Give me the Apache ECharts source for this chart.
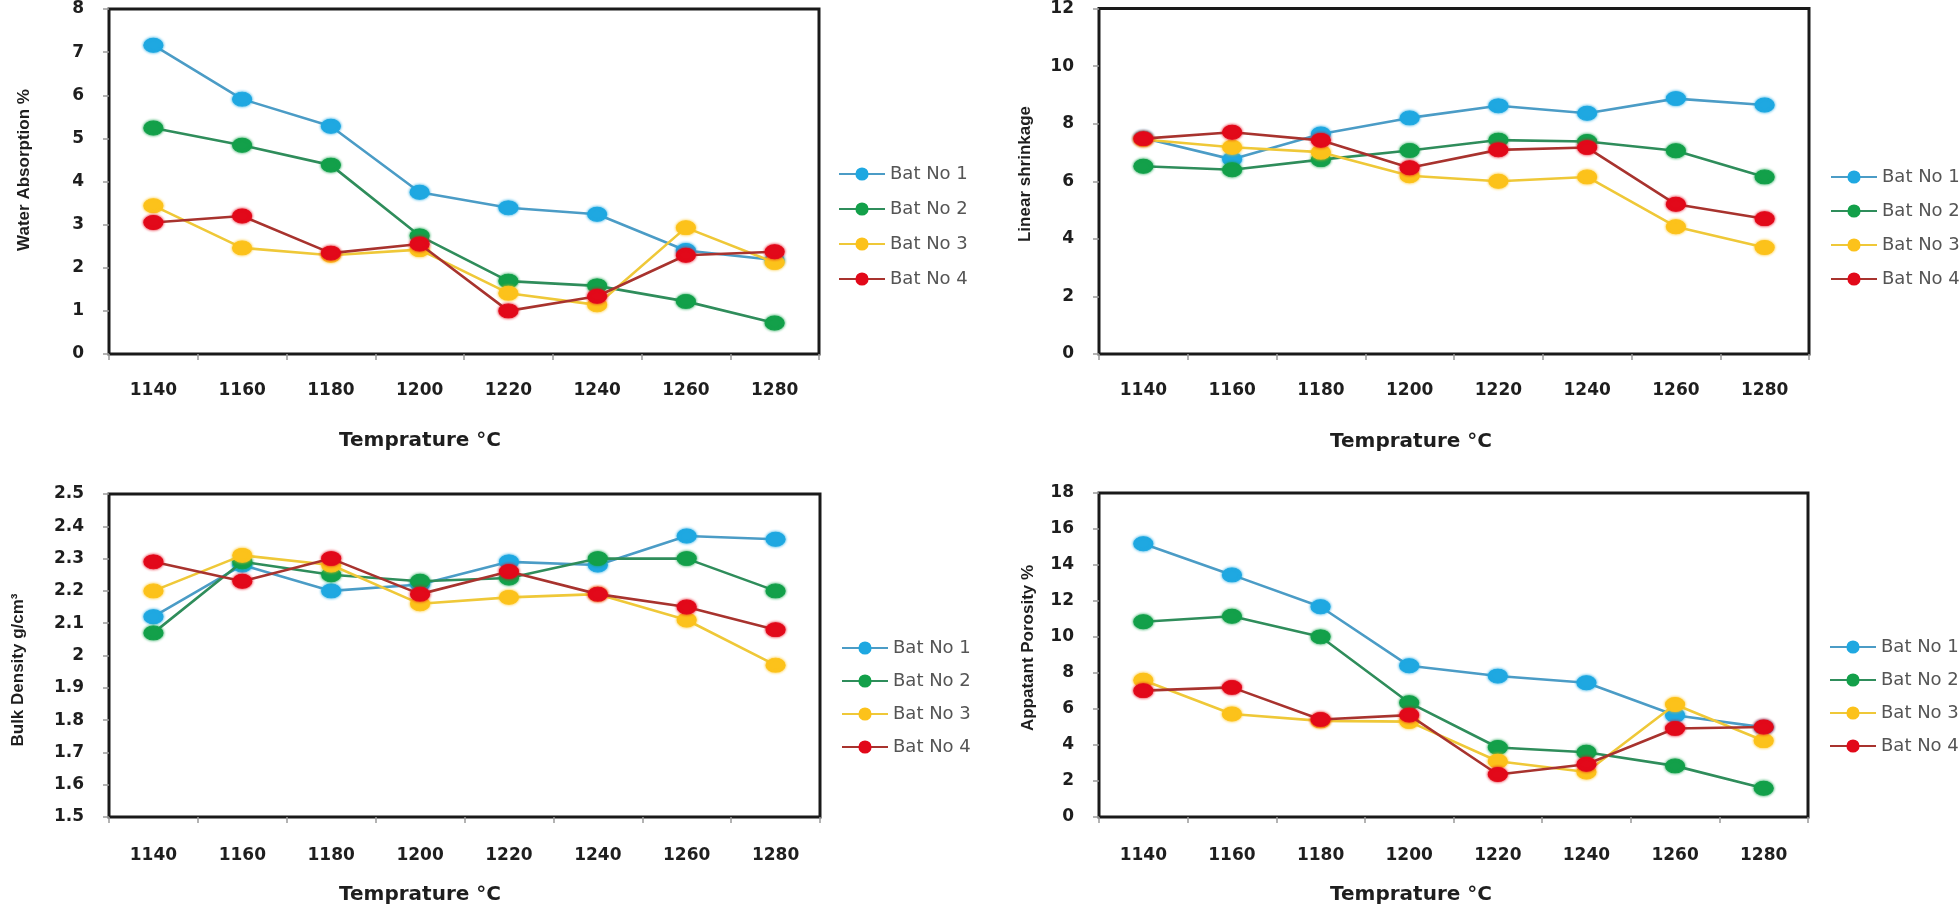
<!DOCTYPE html>
<html>
<head>
<meta charset="utf-8">
<script src="https://cdn.jsdelivr.net/npm/echarts@6/dist/echarts.min.js"></script>
<style>html,body{margin:0;padding:0;background:#fff}#c{width:1960px;height:907px}</style>
</head>
<body>
<div id="c"></div>
<script>
// ---------- data ----------
const categories = ['1140', '1160', '1180', '1200', '1220', '1240', '1260', '1280'];
const seriesNames = ['Bat No 1', 'Bat No 2', 'Bat No 3', 'Bat No 4'];

// Water Absorption %
const waterBat1 = [7.16, 5.91, 5.28, 3.75, 3.39, 3.24, 2.40, 2.18];
const waterBat2 = [5.24, 4.84, 4.38, 2.74, 1.69, 1.58, 1.22, 0.72];
const waterBat3 = [3.44, 2.46, 2.29, 2.42, 1.41, 1.14, 2.93, 2.12];
const waterBat4 = [3.05, 3.20, 2.34, 2.55, 1.00, 1.34, 2.29, 2.37];

// Linear shrinkage
const shrinkBat1 = [7.50, 6.76, 7.64, 8.20, 8.62, 8.36, 8.87, 8.65];
const shrinkBat2 = [6.52, 6.40, 6.75, 7.07, 7.43, 7.38, 7.06, 6.15];
const shrinkBat3 = [7.45, 7.18, 7.01, 6.19, 6.00, 6.15, 4.42, 3.70];
const shrinkBat4 = [7.48, 7.70, 7.42, 6.47, 7.09, 7.17, 5.20, 4.70];

// Bulk Density g/cm3
const densityBat1 = [2.12, 2.28, 2.20, 2.22, 2.29, 2.28, 2.37, 2.36];
const densityBat2 = [2.07, 2.29, 2.25, 2.23, 2.24, 2.30, 2.30, 2.20];
const densityBat3 = [2.20, 2.31, 2.28, 2.16, 2.18, 2.19, 2.11, 1.97];
const densityBat4 = [2.29, 2.23, 2.30, 2.19, 2.26, 2.19, 2.15, 2.08];

// Apparent Porosity %
const porosityBat1 = [15.18, 13.45, 11.68, 8.40, 7.83, 7.46, 5.65, 4.98];
const porosityBat2 = [10.85, 11.15, 10.01, 6.35, 3.86, 3.60, 2.84, 1.60];
const porosityBat3 = [7.60, 5.72, 5.34, 5.30, 3.10, 2.50, 6.25, 4.24];
const porosityBat4 = [7.02, 7.20, 5.42, 5.66, 2.36, 2.93, 4.92, 5.00];

// axis ranges
const waterAxis = {min: 0, max: 8, interval: 1};
const shrinkAxis = {min: 0, max: 12, interval: 2};
const densityAxis = {min: 1.5, max: 2.5, interval: 0.1};
const porosityAxis = {min: 0, max: 18, interval: 2};

const yTitles = ['Water Absorption %', 'Linear shrinkage', 'Bulk Density g/cm\u00B3', 'Appatant Porosity %'];
const xTitle = 'Temprature \u00B0C';

// ---------- styling ----------
const markerColors = ['#1fa8e1', '#13a04a', '#fcc21b', '#e2091a'];
const lineColors = ['#4b9cc6', '#2f8d5b', '#efc838', '#a8332e'];

const panels = [
  {data: [waterBat1, waterBat2, waterBat3, waterBat4], axis: waterAxis,
   grid: {left: 109, top: 9, width: 710, height: 345},
   legend: {left: 838, top: 164, gap: 15}, labelMargin: 28,
   yTitle: [24, 170], xTitle: [420, 441]},
  {data: [shrinkBat1, shrinkBat2, shrinkBat3, shrinkBat4], axis: shrinkAxis,
   grid: {left: 1099, top: 8, width: 710, height: 346},
   legend: {left: 1830, top: 167, gap: 14}, labelMargin: 28,
   yTitle: [1025, 174], xTitle: [1411, 442]},
  {data: [densityBat1, densityBat2, densityBat3, densityBat4], axis: densityAxis,
   grid: {left: 109, top: 494, width: 711, height: 323},
   legend: {left: 841, top: 638, gap: 13}, labelMargin: 30,
   yTitle: [18, 670], xTitle: [420, 895]},
  {data: [porosityBat1, porosityBat2, porosityBat3, porosityBat4], axis: porosityAxis,
   grid: {left: 1099, top: 493, width: 709, height: 324},
   legend: {left: 1829, top: 637, gap: 13}, labelMargin: 30,
   yTitle: [1028, 648], xTitle: [1411, 895]}
];

const labelFont = {fontFamily: 'DejaVu Sans', fontWeight: 'bold', fontSize: 17, color: '#1e1e1e'};

const option = {
  backgroundColor: '#ffffff',
  animation: false,
  grid: [], xAxis: [], yAxis: [], series: [], legend: [], graphic: []
};

panels.forEach((p, i) => {
  option.grid.push(Object.assign({show: true, borderColor: '#1a1a1a', borderWidth: 3, backgroundColor: 'transparent'}, p.grid));
  option.xAxis.push({
    type: 'category', gridIndex: i, data: categories, boundaryGap: true,
    axisLine: {show: false},
    axisTick: {show: true, length: 6, lineStyle: {color: '#9a9a9a', width: 1.5}},
    axisLabel: Object.assign({margin: p.labelMargin}, labelFont),
    splitLine: {show: false}
  });
  option.yAxis.push({
    type: 'value', gridIndex: i, min: p.axis.min, max: p.axis.max, interval: p.axis.interval,
    axisLine: {show: false},
    axisTick: {show: true, length: 6, lineStyle: {color: '#9a9a9a', width: 1.5}},
    axisLabel: Object.assign({margin: 25}, labelFont),
    splitLine: {show: false}
  });
  p.data.forEach((vals, s) => {
    option.series.push({
      name: seriesNames[s], type: 'line', xAxisIndex: i, yAxisIndex: i,
      data: vals, symbol: 'circle', symbolSize: [19, 14],
      lineStyle: {color: lineColors[s], width: 2.6},
      itemStyle: {color: markerColors[s], borderColor: markerColors[s], borderWidth: 1,
                  shadowBlur: 3, shadowColor: markerColors[s]},
      z: 2 + s
    });
  });
  option.legend.push({
    orient: 'vertical', left: p.legend.left, top: p.legend.top, padding: 0,
    itemWidth: 46, itemHeight: 14, itemGap: p.legend.gap,
    data: seriesNames,
    textStyle: {fontFamily: 'DejaVu Sans', fontSize: 18, color: '#555555', lineHeight: 20}
  });
  option.graphic.push({
    type: 'text', x: p.yTitle[0], y: p.yTitle[1], rotation: Math.PI / 2,
    style: {text: yTitles[i], fontFamily: 'Liberation Sans', fontWeight: 'bold', fontSize: 17,
            fill: '#1e1e1e', textAlign: 'center', textVerticalAlign: 'middle'}
  });
  option.graphic.push({
    type: 'text', x: p.xTitle[0], y: p.xTitle[1],
    style: {text: xTitle, fontFamily: 'DejaVu Sans', fontWeight: 'bold', fontSize: 20,
            fill: '#1e1e1e', textAlign: 'center', textVerticalAlign: 'middle'}
  });
});

const chart = echarts.init(document.getElementById('c'), null, {renderer: 'canvas'});
chart.setOption(option);
</script>
</body>
</html>
